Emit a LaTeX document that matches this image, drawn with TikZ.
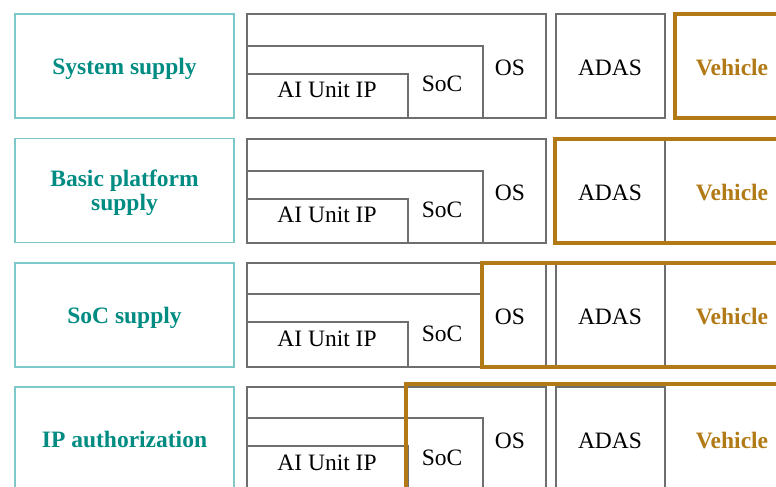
\documentclass[tikz,border=0pt]{standalone}
\usepackage{fontspec}
\setmainfont{Liberation Serif}
\definecolor{labteal}{RGB}{0,140,130}
\definecolor{labedge}{RGB}{125,200,200}
\definecolor{vehgold}{RGB}{178,122,22}
\definecolor{boxgray}{RGB}{110,110,110}
\begin{document}
\begin{tikzpicture}[x=1pt,y=-1pt,
  labelbox/.style={draw=labedge,line width=1.4pt,minimum width=219pt,minimum height=104pt,
    text=labteal,font=\fontsize{23.5}{24}\selectfont\bfseries,align=center,text depth=0pt},
  stackbox/.style={draw=boxgray,line width=1.2pt},
  txt/.style={anchor=base,inner sep=0pt,font=\fontsize{23.5}{26}\selectfont},
  vehtxt/.style={txt,text=vehgold,font=\fontsize{23.5}{26}\selectfont\bfseries},
  goldframe/.style={draw=vehgold,line width=3.6pt}]
\useasboundingbox (0,0) rectangle (776,487);
\clip (0,0) rectangle (776,487);

% System supply
\node[labelbox] (sys) at (124.5,66) {System supply};
\draw[stackbox] (247,14) rectangle (546,118);
\draw[stackbox] (247,46) rectangle (483,118);
\draw[stackbox] (247,74) rectangle (408,118);
\draw[stackbox] (556,14) rectangle (665,118);
\node[txt] (ai1) at (327,97) {AI Unit IP};
\node[txt] (soc1) at (442,92) {SoC};
\node[txt] (os1) at (510,75) {OS};
\node[txt] (adas1) at (610,75) {ADAS};
\node[vehtxt] (veh1) at (732,75) {Vehicle};
\draw[goldframe] (675,14) rectangle (800,118);

% Basic platform supply
\node[labelbox] (basic) at (124.5,190.5) {Basic platform\\supply};
\draw[stackbox] (247,139) rectangle (546,243);
\draw[stackbox] (247,171) rectangle (483,243);
\draw[stackbox] (247,199) rectangle (408,243);
\draw[stackbox] (556,139) rectangle (665,243);
\node[txt] (ai2) at (327,222) {AI Unit IP};
\node[txt] (soc2) at (442,217) {SoC};
\node[txt] (os2) at (510,200) {OS};
\node[txt] (adas2) at (610,200) {ADAS};
\node[vehtxt] (veh2) at (732,200) {Vehicle};
\draw[goldframe] (555,139) rectangle (800,243);

% SoC supply
\node[labelbox] (socsup) at (124.5,315) {SoC supply};
\draw[stackbox] (247,263) rectangle (546,367);
\draw[stackbox] (247,294) rectangle (483,367);
\draw[stackbox] (247,322) rectangle (408,367);
\draw[stackbox] (556,263) rectangle (665,367);
\node[txt] (ai3) at (327,346) {AI Unit IP};
\node[txt] (soc3) at (442,341) {SoC};
\node[txt] (os3) at (510,324) {OS};
\node[txt] (adas3) at (610,324) {ADAS};
\node[vehtxt] (veh3) at (732,324) {Vehicle};
\draw[goldframe] (482,263) rectangle (800,367);

% IP authorization
\node[labelbox] (ipauth) at (124.5,439) {IP authorization};
\draw[stackbox] (247,387) rectangle (546,491);
\draw[stackbox] (247,418) rectangle (483,491);
\draw[stackbox] (247,446) rectangle (408,491);
\draw[stackbox] (556,387) rectangle (665,491);
\node[txt] (ai4) at (327,470) {AI Unit IP};
\node[txt] (soc4) at (442,465) {SoC};
\node[txt] (os4) at (510,448) {OS};
\node[txt] (adas4) at (610,448) {ADAS};
\node[vehtxt] (veh4) at (732,448) {Vehicle};
\draw[goldframe] (406,384) rectangle (800,494);

\end{tikzpicture}
\end{document}
